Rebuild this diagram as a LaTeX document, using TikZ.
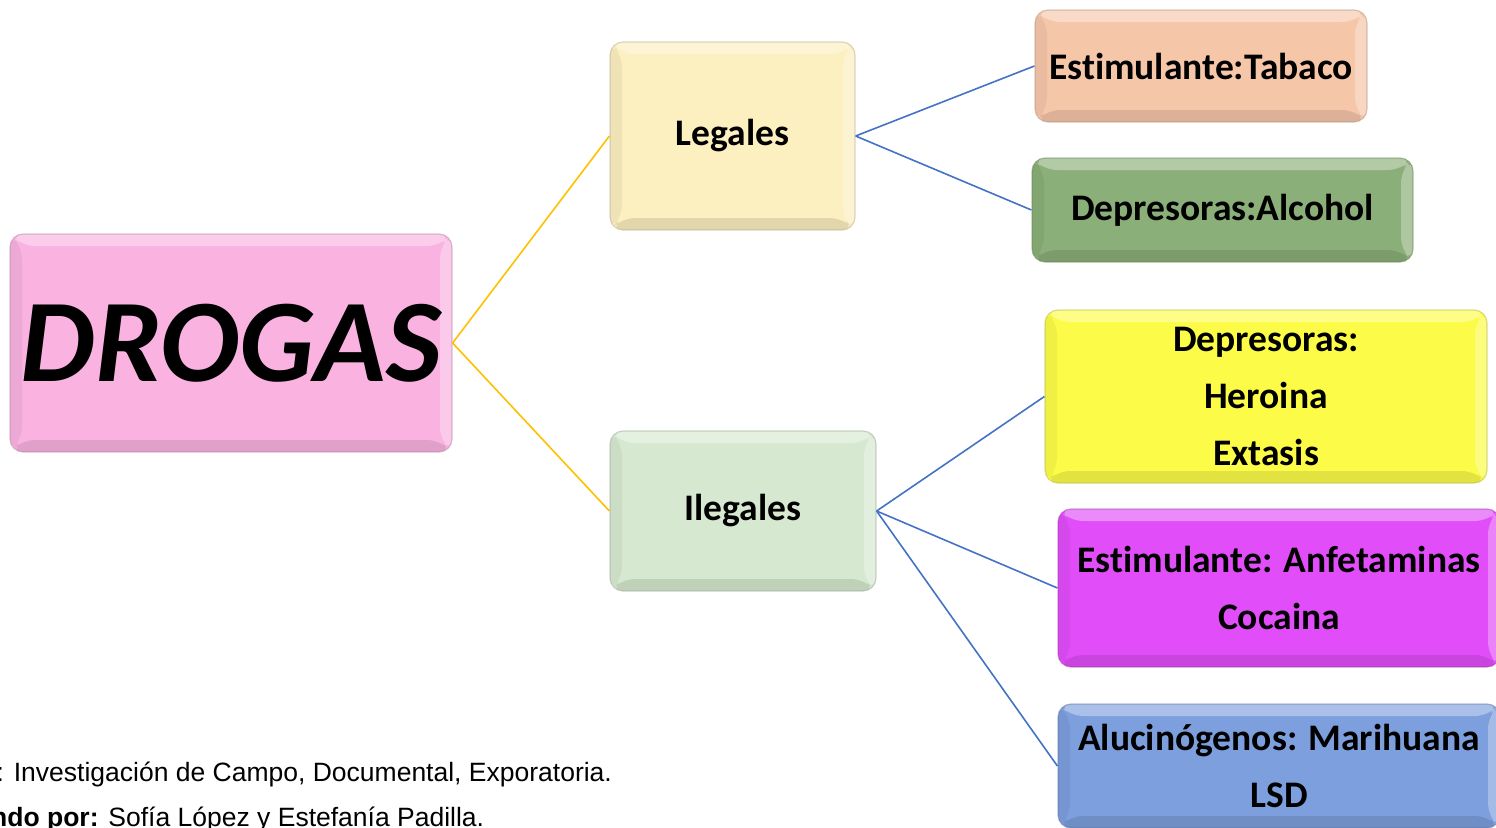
\documentclass[tikz,border=0pt]{standalone}
\usepackage{fontspec}
\setmainfont[Ligatures=NoCommon]{Carlito}
\newfontfamily\arialfont{Liberation Sans}
\usetikzlibrary{calc}
\definecolor{drogasC}{HTML}{FAB3E1}
\definecolor{legC}{HTML}{FCEFC0}
\definecolor{ilegC}{HTML}{D6E9D0}
\definecolor{tabC}{HTML}{F6C6A9}
\definecolor{alcC}{HTML}{8BAF78}
\definecolor{herC}{HTML}{FCFC48}
\definecolor{anfC}{HTML}{E14DF9}
\definecolor{aluC}{HTML}{7D9FDD}
\definecolor{orangeL}{HTML}{FFC000}
\definecolor{blueL}{HTML}{4472C4}
\tikzset{
  bevel/.style={path picture={
    \fill[white,opacity=.35] (path picture bounding box.north west) -- (path picture bounding box.north east)
      -- ([shift={(-12pt,-12pt)}]path picture bounding box.north east) -- ([shift={(12pt,-12pt)}]path picture bounding box.north west) -- cycle;
    \fill[white,opacity=.30] (path picture bounding box.north east) -- (path picture bounding box.south east)
      -- ([shift={(-12pt,12pt)}]path picture bounding box.south east) -- ([shift={(-12pt,-12pt)}]path picture bounding box.north east) -- cycle;
    \fill[black,opacity=.10] (path picture bounding box.south east) -- (path picture bounding box.south west)
      -- ([shift={(12pt,12pt)}]path picture bounding box.south west) -- ([shift={(-12pt,12pt)}]path picture bounding box.south east) -- cycle;
    \fill[black,opacity=.05] (path picture bounding box.south west) -- (path picture bounding box.north west)
      -- ([shift={(12pt,-12pt)}]path picture bounding box.north west) -- ([shift={(12pt,12pt)}]path picture bounding box.south west) -- cycle;
  }},
  box/.style={rounded corners=13pt, fill=#1, draw=#1!70!black, draw opacity=.45, line width=1.2pt,
    bevel, align=center, inner sep=0pt, font=\fontsize{37.5}{57}\selectfont\bfseries},
  orangeLink/.style={draw=orangeL, line width=1.6pt},
  blueLink/.style={draw=blueL, line width=1.6pt},
  note/.style={anchor=base west, inner sep=0pt, font=\arialfont\fontsize{26.5}{26.5}\selectfont}
}
\begin{document}
\begin{tikzpicture}[x=1pt,y=-1pt]
\useasboundingbox (0,0) rectangle (1496,827);
\clip (0,0) rectangle (1496,827);
\node[box=drogasC, minimum width=442pt, minimum height=218pt,
      font=\fontsize{118}{118}\selectfont\bfseries\itshape] (drogas) at (231,343) {DROGAS};
\node[box=legC, minimum width=245pt, minimum height=188pt] (legales) at (732.5,136) {Legales};
\node[box=ilegC, minimum width=266pt, minimum height=160pt] (ilegales) at (743,511) {Ilegales};
\node[box=tabC, minimum width=332pt, minimum height=112pt] (tabaco) at (1201,66) {Estimulante:Tabaco};
\node[box=alcC, minimum width=381pt, minimum height=104pt] (alcohol) at (1222.5,210) {Depresoras:Alcohol};
\node[box=herC, minimum width=442pt, minimum height=173pt] (heroina) at (1266,396.5) {Depresoras:\\Heroina\\Extasis};
\node[box=anfC, minimum width=442pt, minimum height=158pt] (anfet) at (1279,588) {Estimulante: Anfetaminas\\Cocaina};
\node[box=aluC, minimum width=442pt, minimum height=124pt] (aluc) at (1279,766) {Alucinógenos: Marihuana\\LSD};

\draw[orangeLink] (drogas.east) -- (legales.west);
\draw[orangeLink] (drogas.east) -- (ilegales.west);
\draw[blueLink] (legales.east) -- (tabaco.west);
\draw[blueLink] (legales.east) -- (alcohol.west);
\draw[blueLink] (ilegales.east) -- (heroina.west);
\draw[blueLink] (ilegales.east) -- (anfet.west);
\draw[blueLink] (ilegales.east) -- (aluc.west);

\node[note] (tipo) at (-3.5,781.5) {: Investigación de Campo, Documental, Exporatoria.};
\node[note] (autor) at (-9,826) {\textbf{ndo por:} Sofía López y Estefanía Padilla.};
\end{tikzpicture}
\end{document}
